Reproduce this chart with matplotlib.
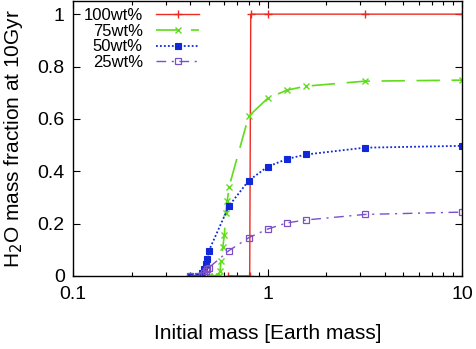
import matplotlib
matplotlib.use("Agg")
import matplotlib.pyplot as plt
from matplotlib.ticker import LogLocator, FixedLocator, NullFormatter

plt.rcParams['font.family'] = ['Liberation Sans', 'DejaVu Sans']

# 100wt%
mass_100 = [0.63, 0.81, 0.82, 1.0, 3.16, 10.0]
frac_100 = [0.0, 0.0, 1.0, 1.0, 1.0, 1.0]

# 75wt%
mass_75 = [0.50, 0.53, 0.56, 0.57, 0.577, 0.589, 0.60, 0.61, 0.621, 0.634, 0.80, 1.0, 1.26, 1.58, 3.16, 10.0]
frac_75 = [0.0, 0.0, 0.0, 0.019, 0.058, 0.11, 0.157, 0.24, 0.286, 0.34, 0.61, 0.678, 0.71, 0.725, 0.744, 0.748]

# 50wt%
mass_50 = [0.40, 0.44, 0.46, 0.47, 0.48, 0.49, 0.50, 0.634, 0.80, 1.0, 1.26, 1.58, 3.16, 10.0]
frac_50 = [0.0, 0.0, 0.01, 0.025, 0.045, 0.065, 0.097, 0.268, 0.364, 0.417, 0.447, 0.464, 0.49, 0.497]

# 25wt%
mass_25 = [0.40, 0.44, 0.46, 0.47, 0.48, 0.49, 0.50, 0.634, 0.80, 1.0, 1.26, 1.58, 3.16, 10.0]
frac_25 = [0.0, 0.0, 0.005, 0.012, 0.018, 0.025, 0.032, 0.097, 0.146, 0.179, 0.203, 0.214, 0.235, 0.244]

RED = "#ee2a22"
GREEN = "#5fdc1a"
BLUE = "#1028d8"
PURPLE = "#7a50c8"

fig = plt.figure(figsize=(4.76, 3.49), dpi=100)
ax = fig.add_axes([0.1534, 0.2092, 0.8172, 0.7878])

ax.plot(mass_100, frac_100, color=RED, lw=1.0, marker="+", ms=6, mew=1.0, label="100wt%")
ax.plot(mass_75, frac_75, color=GREEN, lw=1.2, dashes=(14, 7), marker="x", ms=4.5, mew=1.0, label="75wt%")
ax.plot(mass_50, frac_50, color=BLUE, lw=1.3, dashes=(1.0, 1.2), marker="s", ms=4, mew=0.8, label="50wt%")
ax.plot(mass_25, frac_25, color=PURPLE, lw=1.0, dashes=(7, 4, 1.5, 4), marker="s", ms=4.5, mew=0.9,
        markerfacecolor="none", label="25wt%")

ax.set_xscale("log")
ax.set_xlim(0.1, 10)
ax.set_ylim(0, 1.05)
ax.xaxis.set_major_locator(FixedLocator([0.1, 1, 10]))
ax.set_xticklabels(["0.1", "1", "10"])
ax.xaxis.set_minor_locator(LogLocator(base=10, subs=range(2, 10)))
ax.xaxis.set_minor_formatter(NullFormatter())
ax.set_yticks([0, 0.2, 0.4, 0.6, 0.8, 1.0])
ax.set_yticklabels(["0", "0.2", "0.4", "0.6", "0.8", "1"])

ax.tick_params(which="both", direction="in", top=True, right=True, labelsize=14, width=0.8)
ax.tick_params(which="major", length=5)
ax.tick_params(axis="x", which="major", pad=7)
ax.tick_params(axis="y", which="major", pad=6)
ax.tick_params(which="minor", length=3)
for s in ax.spines.values():
    s.set_linewidth(1.0)

ax.set_xlabel("Initial mass [Earth mass]", fontsize=15, labelpad=15)
ax.set_ylabel(r"H$_2$O mass fraction at 10Gyr", fontsize=15, labelpad=9)

ax.legend(loc="upper left", frameon=False, fontsize=12, markerfirst=False,
          handlelength=2.6, handletextpad=0.8, labelspacing=0.05,
          borderaxespad=0.0, bbox_to_anchor=(0.01, 1.0))

fig.savefig("out.png", dpi=100)
